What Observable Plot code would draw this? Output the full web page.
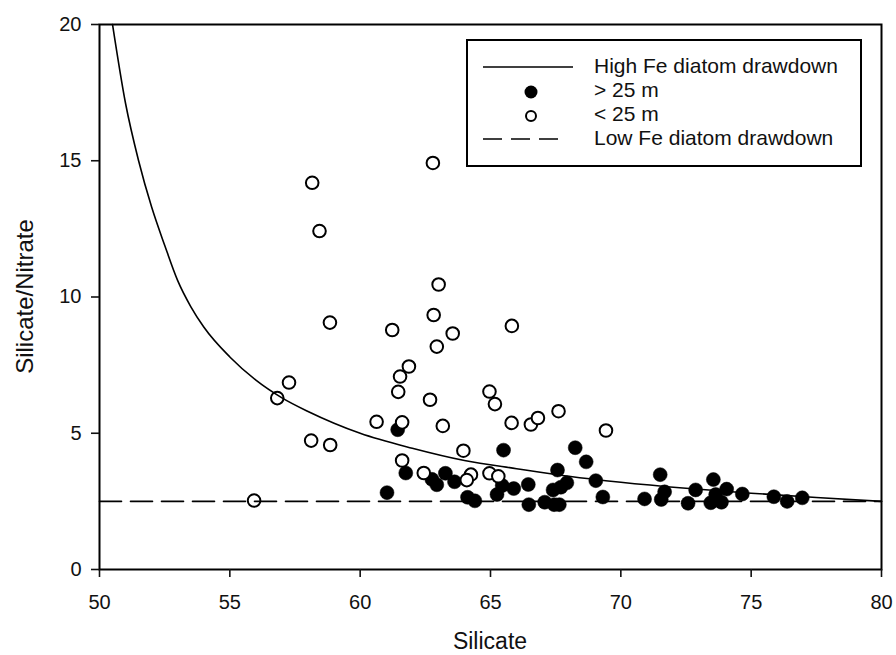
<!DOCTYPE html>
<html>
<head>
<meta charset="utf-8">
<script src="https://cdn.jsdelivr.net/npm/d3@7"></script>
<script src="https://cdn.jsdelivr.net/npm/@observablehq/plot@0.6"></script>
<style>
  html, body { margin: 0; padding: 0; background: #fff; }
  #wrap { position: relative; width: 896px; height: 655px; font-family: "Liberation Sans", Arial, sans-serif; }
  #legend { position: absolute; left: 466px; top: 39px; width: 392px; height: 124px; border: 2px solid #000; background: #fff; box-sizing: content-box; }
  #legend svg { position: absolute; left: 0; top: 0; }
  #legend .lab { position: absolute; left: 126px; font-size: 21px; color: #111; line-height: 22px; white-space: nowrap; }
</style>
</head>
<body>
<div id="wrap"></div>
<script>
// ---- data ----
// Samples deeper than 25 m (filled)
const deepSilicate = [61.44, 61.75, 62.75, 62.94, 63.27, 63.62, 61.03, 64.12, 64.40, 65.50,
  68.25, 68.67, 67.57, 69.04, 71.51, 65.45, 65.89, 66.45, 67.93, 67.70,
  67.40, 65.25, 66.47, 67.08, 67.44, 67.64, 69.31, 70.91, 71.55, 71.68,
  72.58, 72.87, 73.55, 73.45, 73.86, 73.64, 74.06, 74.66, 75.87, 76.38, 76.96];
const deepRatio = [5.13, 3.54, 3.31, 3.11, 3.53, 3.22, 2.82, 2.65, 2.52, 4.38,
  4.47, 3.95, 3.65, 3.26, 3.48, 3.08, 2.97, 3.12, 3.18, 3.02,
  2.92, 2.75, 2.38, 2.47, 2.38, 2.38, 2.66, 2.59, 2.57, 2.85,
  2.43, 2.92, 3.30, 2.45, 2.47, 2.75, 2.95, 2.77, 2.67, 2.50, 2.63];
// Samples shallower than 25 m (open)
const shallowSilicate = [62.79, 58.16, 58.44, 63.01, 62.82, 58.84, 61.23, 63.55, 62.94, 61.87,
  61.53, 61.46, 62.68, 57.27, 56.82, 60.63, 61.61, 63.17, 58.12, 58.85,
  63.96, 61.61, 62.44, 64.25, 64.09, 55.93, 64.96, 65.17, 65.81, 66.55,
  66.82, 67.61, 69.43, 64.96, 65.30, 65.82];
const shallowRatio = [14.92, 14.19, 12.42, 10.46, 9.34, 9.06, 8.79, 8.66, 8.18, 7.45,
  7.08, 6.52, 6.23, 6.86, 6.29, 5.42, 5.40, 5.27, 4.73, 4.57,
  4.36, 4.00, 3.54, 3.48, 3.28, 2.53, 6.53, 6.07, 5.38, 5.32,
  5.56, 5.81, 5.10, 3.53, 3.42, 8.94];
// High Fe diatom drawdown curve
const highFeSilicate = [50.5, 51.0, 51.5, 52.0, 52.5, 53.0, 53.5, 54.0, 55.0, 56.0, 57.0, 58.0, 59.0, 60.0, 62.0, 64.0, 66.0, 68.0, 70.0, 72.5, 75.0, 77.5, 80.0];
const highFeRatio    = [20.0, 17.1, 15.0, 13.3, 11.9, 10.6, 9.65, 8.9, 7.8, 6.95, 6.3, 5.8, 5.37, 5.0, 4.45, 4.0, 3.7, 3.42, 3.2, 2.98, 2.8, 2.64, 2.5];
// Low Fe diatom drawdown (constant ratio)
const lowFeSilicate = [50, 80];
const lowFeRatio = [2.5, 2.5];
const xTicks = [50, 55, 60, 65, 70, 75, 80];
const yTicks = [0, 5, 10, 15, 20];
const xTitle = "Silicate";
const yTitle = "Silicate/Nitrate";
const legendLabels = ["High Fe diatom drawdown", "> 25 m", "< 25 m", "Low Fe diatom drawdown"];

// ---- build tables ----
const deep = deepSilicate.map((s, i) => ({si: s, r: deepRatio[i]}));
const shallow = shallowSilicate.map((s, i) => ({si: s, r: shallowRatio[i]}));
const highFe = highFeSilicate.map((s, i) => ({si: s, r: highFeRatio[i]}));
const lowFe = lowFeSilicate.map((s, i) => ({si: s, r: lowFeRatio[i]}));

const W = 896, H = 655, mL = 99, mR = 15, mT = 24, mB = 86;

const chart = Plot.plot({
  width: W, height: H,
  marginLeft: mL, marginRight: mR, marginTop: mT, marginBottom: mB,
  style: {fontFamily: "'Liberation Sans', Arial, sans-serif", fontSize: "20px", color: "#111", background: "#fff", overflow: "visible"},
  x: {domain: [50, 80]},
  y: {domain: [0, 20]},
  marks: [
    Plot.dot(deep, {x: "si", y: "r", r: 7, fill: "#000", stroke: "#000", strokeWidth: 0.5}),
    Plot.dot(shallow, {x: "si", y: "r", r: 6.3, fill: "#fff", stroke: "#000", strokeWidth: 2}),
    Plot.line(highFe, {x: "si", y: "r", curve: "monotone-x", stroke: "#000", strokeWidth: 1.6}),
    Plot.line(lowFe, {x: "si", y: "r", stroke: "#000", strokeWidth: 1.6, strokeDasharray: "22,9"}),
    Plot.frame({stroke: "#000", strokeWidth: 2}),
    Plot.axisX({ticks: xTicks, tickSize: 8, tickPadding: 17, fontSize: 20, tickFormat: d => String(d), label: null, strokeWidth: 1.6}),
    Plot.axisY({ticks: yTicks, tickSize: 8, tickPadding: 10, fontSize: 20, tickFormat: d => String(d), label: null, strokeWidth: 1.6})
  ]
});

const wrap = document.getElementById("wrap");
wrap.appendChild(chart);

// axis titles
const svg = d3.select(chart);
svg.append("text")
  .attr("x", mL + (W - mL - mR) / 2).attr("y", H - 6)
  .attr("text-anchor", "middle").attr("font-size", 23).attr("fill", "#111")
  .text(xTitle);
svg.append("text")
  .attr("transform", `translate(33,${mT + (H - mT - mB) / 2}) rotate(-90)`)
  .attr("text-anchor", "middle").attr("font-size", 24).attr("fill", "#111")
  .text(yTitle);

// legend
const leg = document.createElement("div");
leg.id = "legend";
wrap.appendChild(leg);
const ls = d3.select(leg).append("svg").attr("width", 392).attr("height", 124);
ls.append("line").attr("x1", 15).attr("x2", 105).attr("y1", 26).attr("y2", 26).attr("stroke", "#000").attr("stroke-width", 1.6);
ls.append("circle").attr("cx", 63).attr("cy", 51).attr("r", 6.5).attr("fill", "#000");
ls.append("circle").attr("cx", 63).attr("cy", 75).attr("r", 5).attr("fill", "#fff").attr("stroke", "#000").attr("stroke-width", 2);
ls.append("line").attr("x1", 15).attr("x2", 95).attr("y1", 98).attr("y2", 98).attr("stroke", "#000").attr("stroke-width", 1.6).attr("stroke-dasharray", "19,9");
legendLabels.forEach((t, i) => {
  const d = document.createElement("div");
  d.className = "lab";
  d.style.top = (14 + i * 24) + "px";
  d.textContent = t;
  leg.appendChild(d);
});
</script>
</body>
</html>
